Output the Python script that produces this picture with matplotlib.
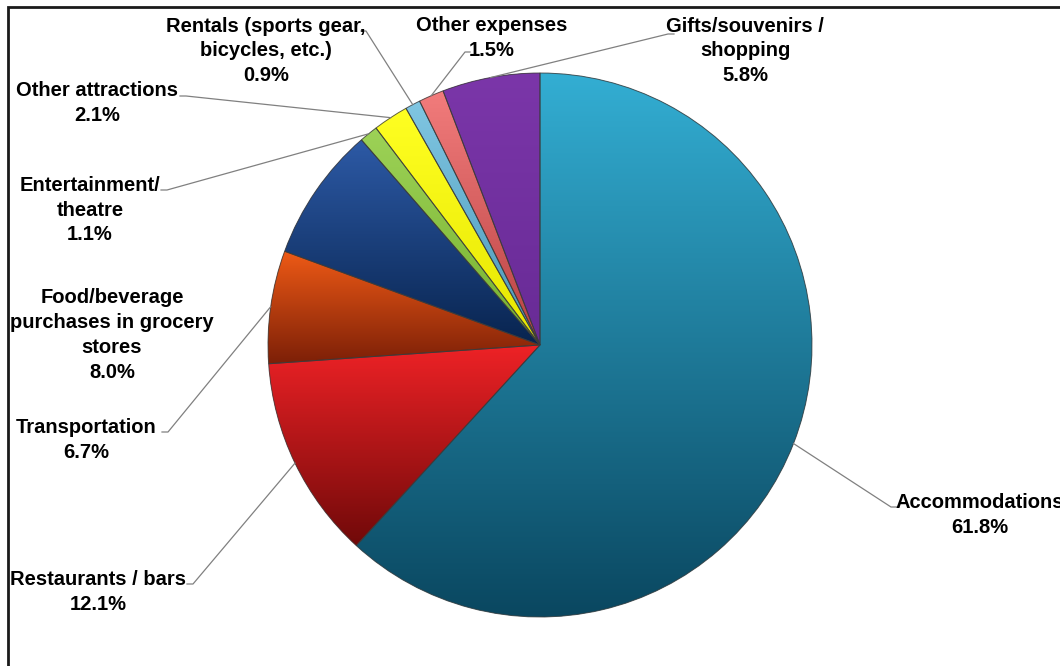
import numpy as np
import matplotlib
matplotlib.use("Agg")
from matplotlib import pyplot as plt
from matplotlib.colors import LinearSegmentedColormap
from matplotlib.patches import Rectangle, PathPatch

# spending shares, clockwise from 12 o'clock
categories = ["Accommodations", "Restaurants / bars", "Transportation",
              "Food/beverage\npurchases in grocery\nstores",
              "Entertainment/\ntheatre", "Other attractions",
              "Rentals (sports gear,\nbicycles, etc.)", "Other expenses",
              "Gifts/souvenirs /\nshopping"]
shares = [61.8, 12.1, 6.7, 8.0, 1.1, 2.1, 0.9, 1.5, 5.8]

# light (top) and dark (bottom) end of each slice gradient
top_colors = ["#33AED3", "#EE2226", "#EE5A16", "#2D5AA6",
              "#9DD257", "#FFFF22", "#80C6E2", "#F27C7C", "#7B36A9"]
bottom_colors = ["#0A4760", "#700909", "#7C1F07", "#08244F",
                 "#76B02E", "#E6E600", "#4A97B8", "#B84242", "#682B96"]

W, H = 1060, 666
fig = plt.figure(figsize=(W / 100, H / 100), dpi=100)
ax = fig.add_axes([0, 0, 1, 1])

cx, cy, r = 540, H - 345, 272
wedges, _ = ax.pie(shares, center=(cx, cy), radius=r, startangle=90,
                   counterclock=False, colors=top_colors,
                   wedgeprops=dict(linewidth=0))

grad = np.linspace(0, 1, 256).reshape(-1, 1)
for w, c0, c1 in zip(wedges, top_colors, bottom_colors):
    bb = w.get_path().get_extents()
    cmap = LinearSegmentedColormap.from_list("g", [c0, c1])
    im = ax.imshow(grad, cmap=cmap, extent=[bb.x0, bb.x1, bb.y0, bb.y1],
                   origin="upper", aspect="auto", zorder=2,
                   interpolation="bilinear")
    im.set_clip_path(w)
    ax.add_patch(PathPatch(w.get_path(), fc="none", ec="#3a3a3a",
                           lw=0.7, alpha=0.8, zorder=3))

# label centres (x, y from top) and elbow of the leader line
label_pos = [(980, 515), (98, 592), (86, 440), (112, 335), (90, 210),
             (97, 103), (266, 51), (492, 38), (745, 51)]
elbows = [((891, 507), (898, 507)), ((193, 584), (187, 584)),
          ((168, 432), (162, 432)), None, ((167, 190), (161, 190)),
          ((186, 96), (180, 96)), ((366, 31), (361, 31)),
          ((465, 52), (470, 52)), ((668, 34), (674, 34))]

for w, name, val, (lx, ly), elb in zip(wedges, categories, shares,
                                       label_pos, elbows):
    ax.text(lx, H - ly, f"{name}\n{val:.1f}%", ha="center", va="center",
            fontsize=14.5, fontweight="bold", family="Liberation Sans",
            linespacing=1.38, zorder=5)
    if elb is None:
        continue
    mid = np.deg2rad((w.theta1 + w.theta2) / 2)
    px, py = cx + r * np.cos(mid), cy + r * np.sin(mid)
    (ex, ey), (tx, ty) = elb
    ax.plot([px, ex, tx], [py, H - ey, H - ty], color="#808080", lw=0.9,
            zorder=4)

# chart border (runs off the right and bottom edge)
ax.add_patch(Rectangle((8, -20), W, H - 7 + 20, fill=False, lw=2,
                       ec="#1a1a1a", zorder=6))

ax.set_xlim(0, W)
ax.set_ylim(0, H)
ax.set_aspect("auto")
ax.axis("off")

# title sits above the top edge, only its descenders show
fig.text(20 / W, 1 + 6.5 / H, "Average Expenditure per Party", ha="left",
         va="baseline", fontsize=20, fontweight="bold",
         family="Liberation Sans")

fig.savefig("out.png", dpi=100)
